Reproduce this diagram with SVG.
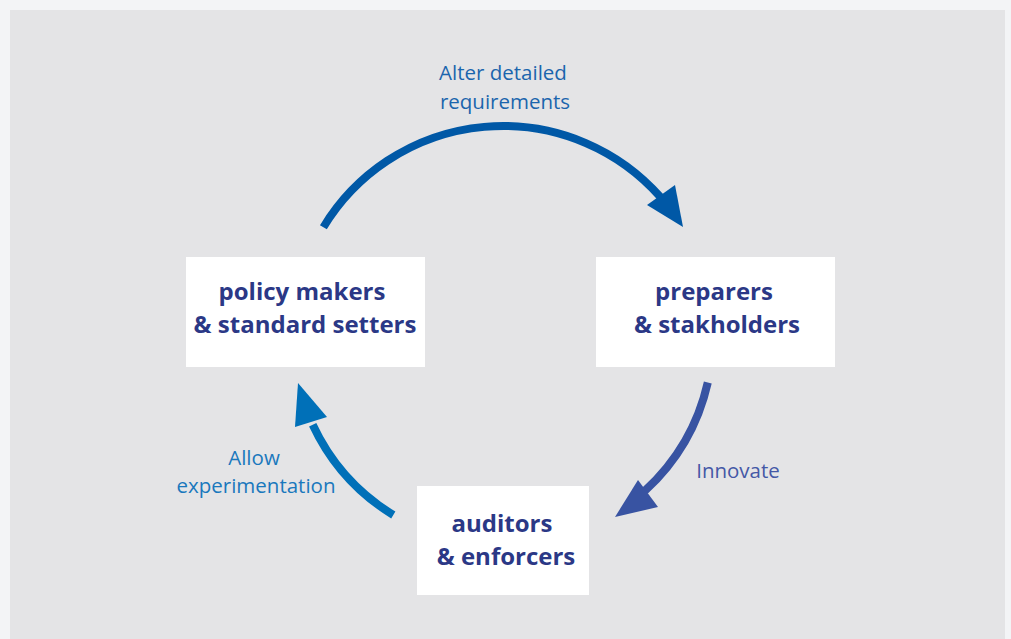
<svg xmlns="http://www.w3.org/2000/svg" width="1011" height="639" viewBox="0 0 1011 639">
<defs>
<style>
.node rect{fill:#ffffff}
.node text{font-family:"Open Sans",Lato,"Liberation Sans",sans-serif;font-weight:bold;font-size:24px;fill:#2b3886;text-anchor:middle}
.lbl{font-family:"Open Sans",Lato,"Liberation Sans",sans-serif;font-size:20.5px;text-anchor:middle}
.shaft{fill:none;stroke-width:8}
</style>
</defs>
<rect x="0" y="0" width="1011" height="639" fill="#f3f4f6"/>
<rect x="10" y="10" width="995" height="629" fill="#e4e4e6"/>
<g id="connectors">
<g id="c-top">
<path class="shaft" stroke="#0058a6" d="M323.4,227.2 A210,210 0 0,1 660.3,196.9"/>
<polygon fill="#0058a6" points="683,227 647,205 675,185"/>
<text class="lbl" fill="#1b65ad" x="503" y="80">Alter detailed</text>
<text class="lbl" fill="#1b65ad" x="505" y="109">requirements</text>
</g>
<g id="c-right">
<path class="shaft" stroke="#3853a2" d="M707.8,382.5 A210,210 0 0,1 644.9,490.8"/>
<polygon fill="#3853a2" points="615,517 638,480 658,507"/>
<text class="lbl" fill="#4458a6" x="738" y="478">Innovate</text>
</g>
<g id="c-left">
<path class="shaft" stroke="#0070b8" d="M393.3,515 A210,210 0 0,1 312.7,424.7"/>
<polygon fill="#0070b8" points="298,383 295,427 327,417"/>
<text class="lbl" fill="#1a78bd" x="254" y="465">Allow</text>
<text class="lbl" fill="#1a78bd" x="256" y="493">experimentation</text>
</g>
</g>
<g id="node-policy" class="node">
<rect x="186" y="257" width="239" height="110"/>
<text x="302" y="300">policy makers</text>
<text x="305" y="333">&amp; standard setters</text>
</g>
<g id="node-preparers" class="node">
<rect x="596" y="257" width="239" height="110"/>
<text x="714" y="300">preparers</text>
<text x="717" y="333">&amp; stakholders</text>
</g>
<g id="node-auditors" class="node">
<rect x="417" y="486" width="172" height="109"/>
<text x="502" y="532">auditors</text>
<text x="506" y="565">&amp; enforcers</text>
</g>
</svg>
